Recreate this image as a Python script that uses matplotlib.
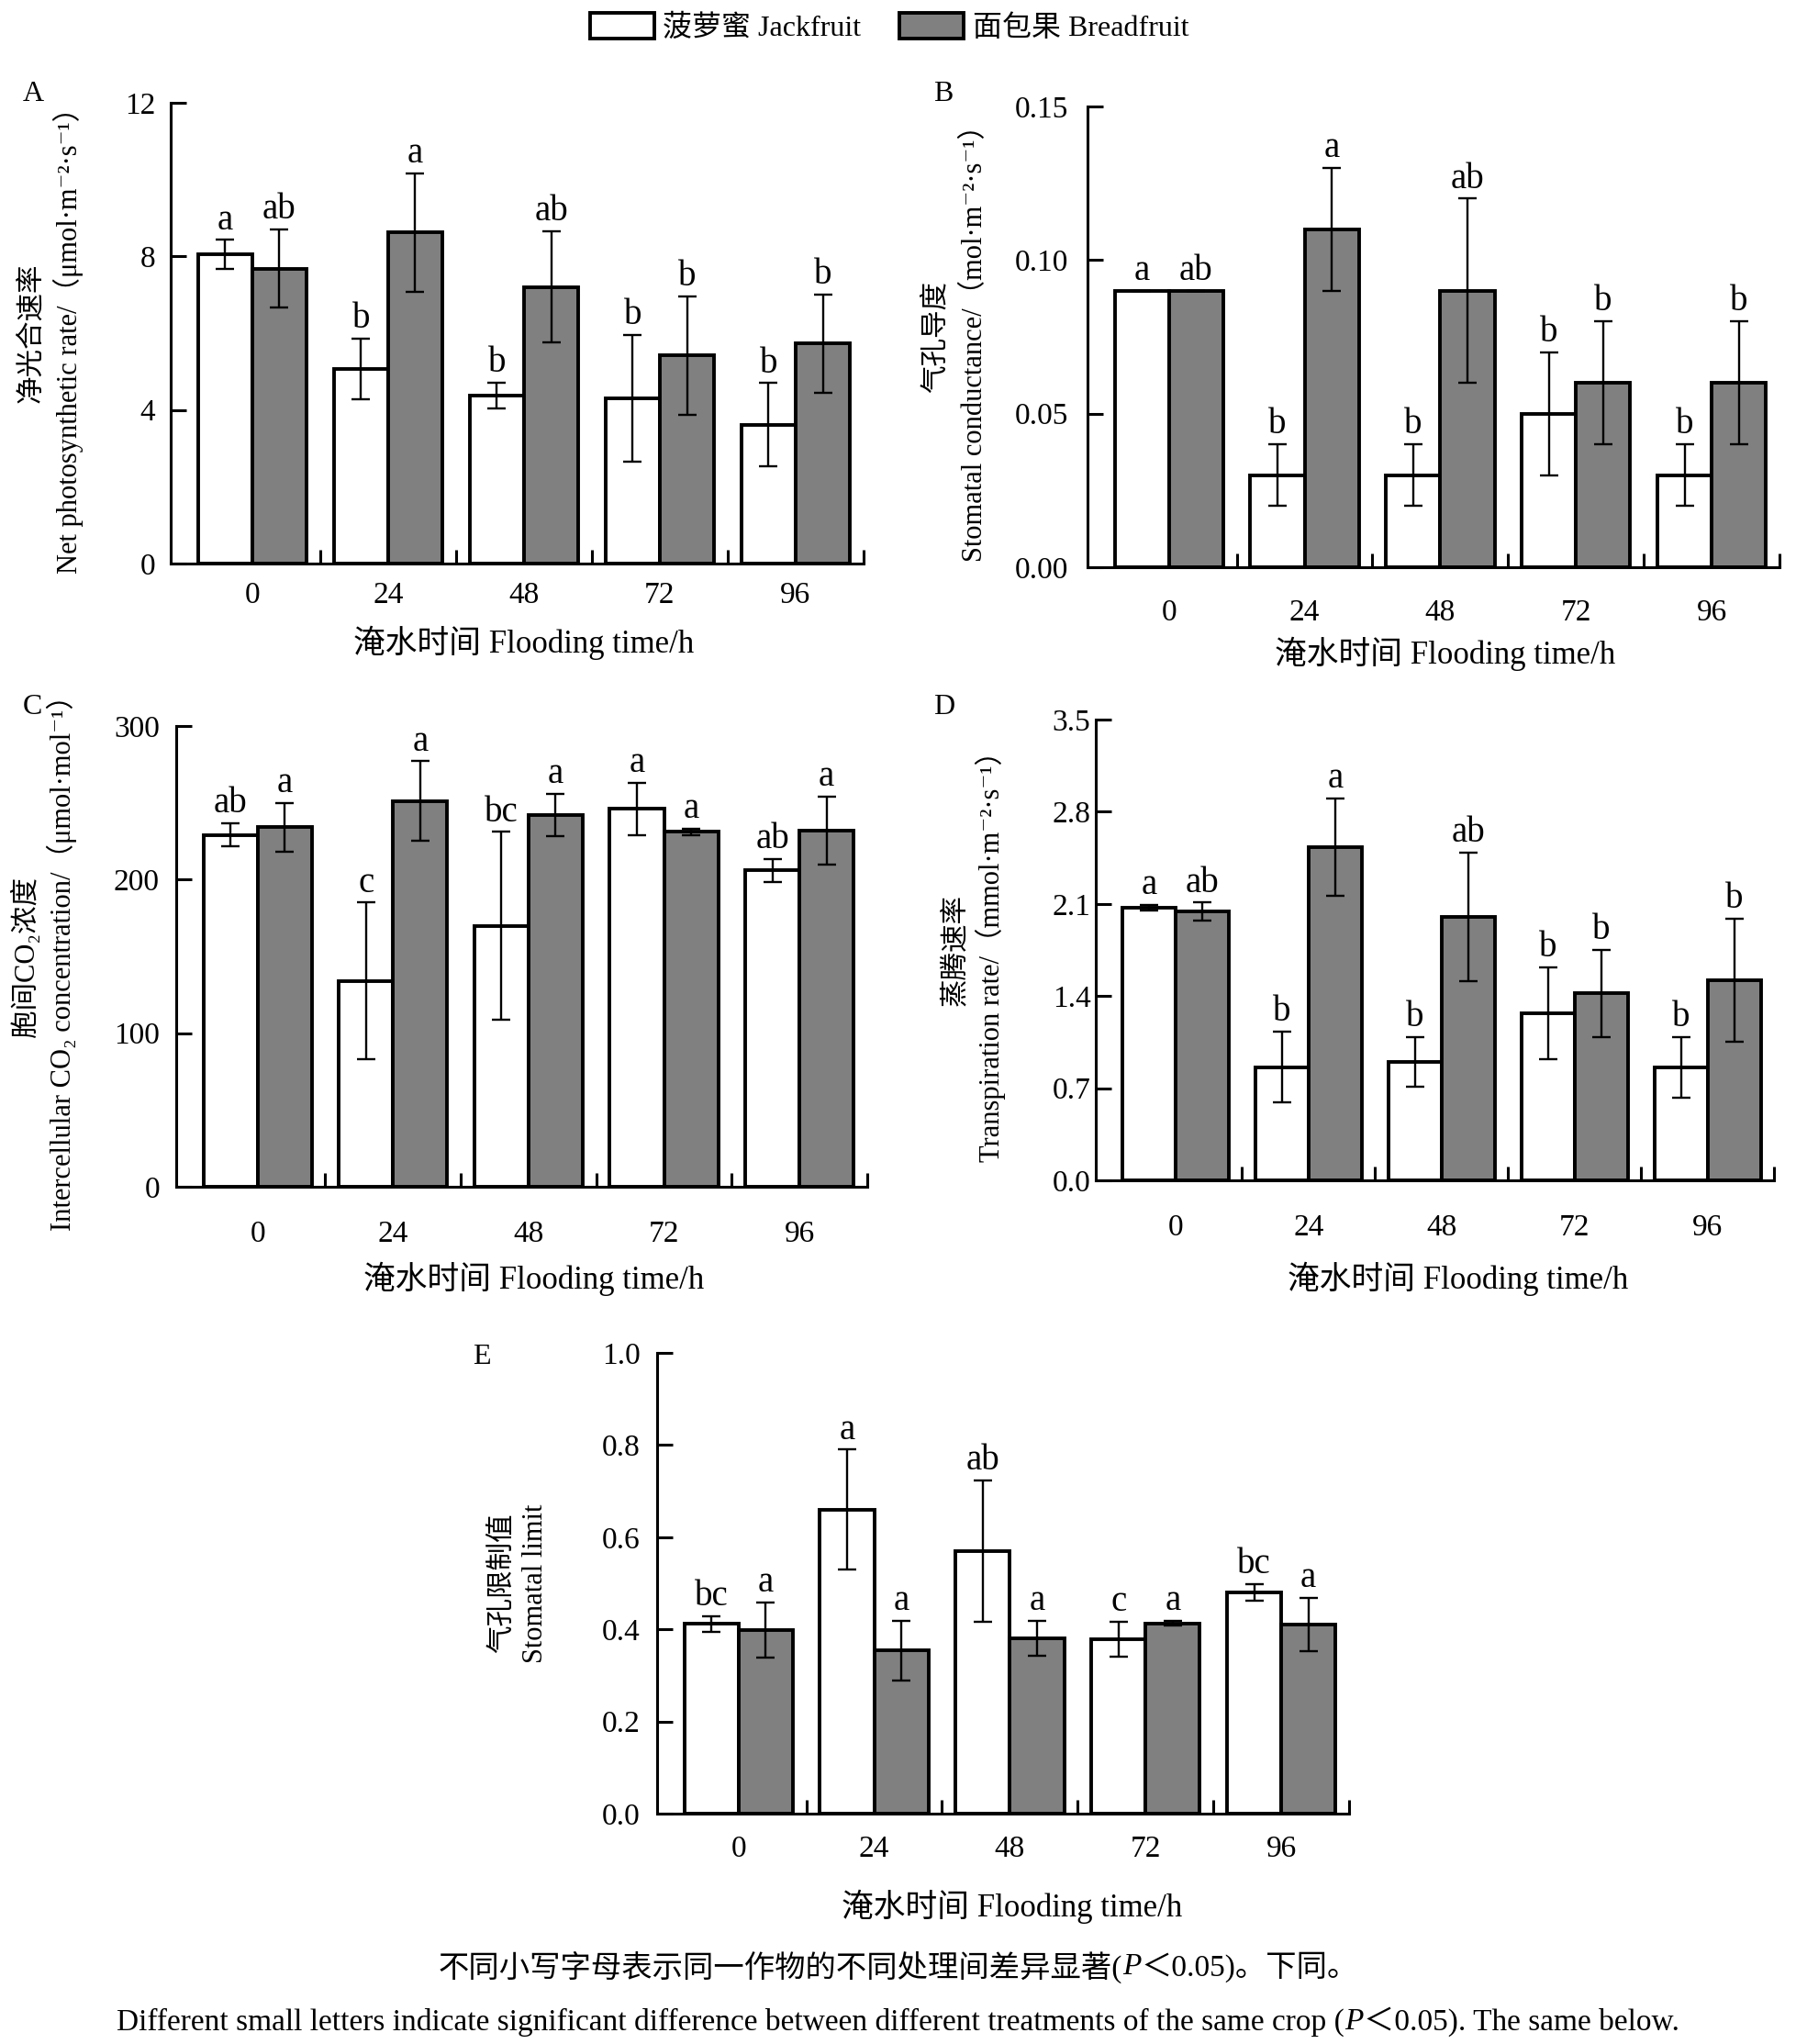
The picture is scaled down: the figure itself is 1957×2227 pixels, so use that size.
import matplotlib
matplotlib.use('Agg')
import matplotlib.pyplot as plt
from matplotlib.patches import Patch
import numpy as np

FONTS = ['Liberation Serif', 'Noto Sans CJK SC', 'DejaVu Serif']
plt.rcParams['font.family'] = FONTS
plt.rcParams['axes.unicode_minus'] = False

# 数据
hours = ['0', '24', '48', '72', '96']

pn_jack = [8.05, 5.07, 4.38, 4.30, 3.62]
pn_jack_err = [0.38, 0.78, 0.34, 1.65, 1.08]
pn_bread = [7.68, 8.62, 7.20, 5.42, 5.73]
pn_bread_err = [1.02, 1.55, 1.45, 1.54, 1.28]
pn_jack_sig = ['a', 'b', 'b', 'b', 'b']
pn_bread_sig = ['ab', 'a', 'ab', 'b', 'b']

gs_jack = [0.09, 0.03, 0.03, 0.05, 0.03]
gs_jack_err = [0.0, 0.01, 0.01, 0.02, 0.01]
gs_bread = [0.09, 0.11, 0.09, 0.06, 0.06]
gs_bread_err = [0.0, 0.02, 0.03, 0.02, 0.02]
gs_jack_sig = ['a', 'b', 'b', 'b', 'b']
gs_bread_sig = ['ab', 'a', 'ab', 'b', 'b']

ci_jack = [229, 134, 170, 246, 206]
ci_jack_err = [7.5, 51, 61, 17, 7.5]
ci_bread = [234, 251, 242, 231, 232]
ci_bread_err = [16, 26, 14, 2, 22]
ci_jack_sig = ['ab', 'c', 'bc', 'a', 'ab']
ci_bread_sig = ['a', 'a', 'a', 'a', 'a']

tr_jack = [2.07, 0.86, 0.90, 1.27, 0.86]
tr_jack_err = [0.02, 0.27, 0.19, 0.35, 0.23]
tr_bread = [2.04, 2.53, 2.00, 1.42, 1.52]
tr_bread_err = [0.07, 0.37, 0.49, 0.33, 0.47]
tr_jack_sig = ['a', 'b', 'b', 'b', 'b']
tr_bread_sig = ['ab', 'a', 'ab', 'b', 'b']

ls_jack = [0.412, 0.66, 0.57, 0.378, 0.48]
ls_jack_err = [0.017, 0.13, 0.154, 0.038, 0.018]
ls_bread = [0.398, 0.354, 0.38, 0.413, 0.41]
ls_bread_err = [0.06, 0.065, 0.038, 0.005, 0.058]
ls_jack_sig = ['bc', 'a', 'ab', 'c', 'bc']
ls_bread_sig = ['a', 'a', 'a', 'a', 'a']

W, H = 1957, 2227
fig = plt.figure(figsize=(W / 100, H / 100), dpi=100)


def px_axes(x0, x1, y0, y1):
    # 像素位置 -> figure 坐标
    return fig.add_axes([x0 / W, 1 - y1 / H, (x1 - x0) / W, (y1 - y0) / H])


def panel(ax, jack, jerr, bread, berr, jsig, bsig, ylim, yticks, fmt,
          ylab_cn, ylab_en, cn_x, en_x, xlab_pos, ypad, xpad):
    x = np.arange(len(hours))
    w = 0.4
    ekw = dict(elinewidth=1.7, capthick=1.7, ecolor='black')
    ax.bar(x - w / 2, jack, w, yerr=jerr, capsize=7, color='white',
           edgecolor='black', linewidth=2.8, error_kw=ekw, zorder=2)
    ax.bar(x + w / 2, bread, w, yerr=berr, capsize=7, color='#808080',
           edgecolor='black', linewidth=2.8, error_kw=ekw, zorder=2)
    for xi, v, e, s in zip(x - w / 2, jack, jerr, jsig):
        ax.annotate(s, (xi, v + e), xytext=(0, 2), textcoords='offset points',
                    ha='center', va='bottom', fontsize=28)
    for xi, v, e, s in zip(x + w / 2, bread, berr, bsig):
        ax.annotate(s, (xi, v + e), xytext=(0, 2), textcoords='offset points',
                    ha='center', va='bottom', fontsize=28)

    ax.set_xlim(-0.6, 4.5)
    ax.set_ylim(*ylim)
    ax.set_yticks(yticks)
    ax.set_yticklabels([fmt.format(t) for t in yticks])
    ax.set_xticks(np.arange(0.5, 5, 1.0))
    ax.set_xticklabels([])
    ax.set_xticks(x, minor=True)
    ax.set_xticklabels(hours, minor=True)
    ax.tick_params(axis='x', which='major', direction='in', length=11, width=2.2)
    ax.tick_params(axis='x', which='minor', length=0, pad=xpad, labelsize=24)
    ax.tick_params(axis='y', direction='in', length=12, width=2.2, pad=ypad,
                   labelsize=24)
    for side in ['top', 'right']:
        ax.spines[side].set_visible(False)
    for side in ['left', 'bottom']:
        ax.spines[side].set_linewidth(2.2)

    # 纵轴标题: 中文一行, 英文一行
    ax.set_ylabel(ylab_en, fontsize=22)
    ax.yaxis.set_label_coords(en_x, 0.5)
    ax.text(cn_x, 0.5, ylab_cn, transform=ax.transAxes, rotation=90,
            ha='center', va='center', fontsize=22)
    ax.set_xlabel('淹水时间 Flooding time/h', fontsize=25)
    ax.xaxis.set_label_coords(*xlab_pos)


axA = px_axes(186, 941, 112, 614)
panel(axA, pn_jack, pn_jack_err, pn_bread, pn_bread_err, pn_jack_sig, pn_bread_sig,
      (0, 12), [0, 4, 8, 12], '{:g}',
      '净光合速率', 'Net photosynthetic rate/（μmol·m⁻²·s⁻¹）',
      -0.201, -0.126, (0.509, -0.135), 12, 14)

axB = px_axes(1185, 1939, 116, 618)
panel(axB, gs_jack, gs_jack_err, gs_bread, gs_bread_err, gs_jack_sig, gs_bread_sig,
      (0, 0.15), [0, 0.05, 0.10, 0.15], '{:.2f}',
      '气孔导度', 'Stomatal conductance/（mol·m⁻²·s⁻¹）',
      -0.219, -0.143, (0.517, -0.150), 15, 25)

axC = px_axes(192, 945, 791, 1293)
panel(axC, ci_jack, ci_jack_err, ci_bread, ci_bread_err, ci_jack_sig, ci_bread_sig,
      (0, 300), [0, 100, 200, 300], '{:g}',
      '胞间CO₂浓度', 'Intercellular CO₂ concentration/（μmol·mol⁻¹）',
      -0.218, -0.143, (0.517, -0.162), 13, 26)

axD = px_axes(1194, 1933, 784, 1286)
panel(axD, tr_jack, tr_jack_err, tr_bread, tr_bread_err, tr_jack_sig, tr_bread_sig,
      (0, 3.5), [0, 0.7, 1.4, 2.1, 2.8, 3.5], '{:.1f}',
      '蒸腾速率', 'Transpiration rate/（mmol·m⁻²·s⁻¹）',
      -0.206, -0.133, (0.534, -0.176), 4, 26)

axE = px_axes(716, 1470, 1474, 1976)
panel(axE, ls_jack, ls_jack_err, ls_bread, ls_bread_err, ls_jack_sig, ls_bread_sig,
      (0, 1.0), [0, 0.2, 0.4, 0.6, 0.8, 1.0], '{:.1f}',
      '气孔限制值', 'Stomatal limit',
      -0.224, -0.157, (0.513, -0.164), 13, 17)

# 子图标号
for lab, (px, py) in zip('ABCDE', [(25, 103), (1017, 103), (25, 771),
                                   (1017, 771), (515, 1478)]):
    fig.text(px / W, 1 - py / H, lab, fontsize=23, ha='left', va='center')

# 图例
handles = [Patch(facecolor='white', edgecolor='black', linewidth=2.8),
           Patch(facecolor='#808080', edgecolor='black', linewidth=2.8)]
fig.legend(handles, ['菠萝蜜 Jackfruit', '面包果 Breadfruit'], loc='center',
           bbox_to_anchor=(969 / W, 1 - 30 / H), ncol=2, frameon=False,
           fontsize=23, handlelength=2.2, handleheight=1.0,
           handletextpad=0.3, columnspacing=1.3)


# 注释: 分段排版, 让 P 用斜体
def rich_line(y_px, parts, size):
    renderer = fig.canvas.get_renderer()
    texts = []
    for s, style in parts:
        t = fig.text(0, 1 - y_px / H, s, fontsize=size, style=style,
                     ha='left', va='center')
        texts.append(t)
    widths = [t.get_window_extent(renderer).width for t in texts]
    x = (W - sum(widths)) / 2
    for t, wd in zip(texts, widths):
        t.set_x(x / W)
        x += wd


rich_line(2143, [('不同小写字母表示同一作物的不同处理间差异显著(', 'normal'),
                 ('P', 'italic'), ('＜0.05)。下同。', 'normal')], 24)
rich_line(2203, [('Different small letters indicate significant difference between '
                  'different treatments of the same crop (', 'normal'),
                 ('P', 'italic'), ('＜0.05). The same below.', 'normal')], 24)

fig.savefig('out.png', dpi=100)
